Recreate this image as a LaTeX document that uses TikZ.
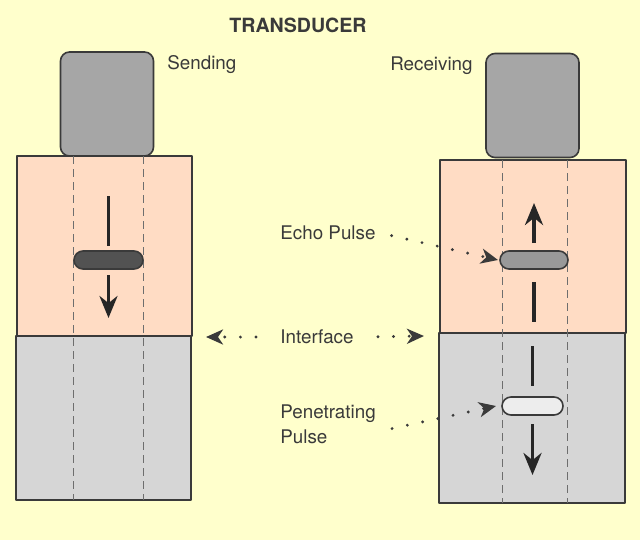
\documentclass[tikz,border=0pt]{standalone}
\usepackage{fontspec}
\setmainfont{TeX Gyre Heros}
\usepackage{tikz}
\usetikzlibrary{arrows.meta,positioning}
\definecolor{paper}{HTML}{FFFFCC}
\definecolor{skin}{HTML}{FFDCC4}
\definecolor{tissue}{HTML}{D6D6D6}
\definecolor{probe}{HTML}{A6A6A6}
\definecolor{ink}{HTML}{3A3A3A}
\definecolor{guide}{HTML}{6E6E6E}
\tikzset{
    every picture/.style={line join=round},
    probebox/.style={draw=ink,fill=probe,line width=0.8pt,rounded corners=4.5pt,
      minimum width=46.5pt,minimum height=52pt,inner sep=0pt,outer sep=0pt},
    skinpart/.style={draw=ink,fill=skin,line width=0.8pt,inner sep=0pt,outer sep=0pt},
    tissuepart/.style={draw=ink,fill=tissue,line width=0.8pt,inner sep=0pt,outer sep=0pt},
    pulsebar/.style={draw=ink,line width=0.8pt,rounded corners=4.5pt,
      minimum height=9pt,inner sep=0pt,outer sep=0pt},
    beam/.style={draw=black!85,line width=1.8pt},
    beamarrow/.style={beam,-{Stealth[length=11pt,width=9pt]}},
    guideline/.style={draw=guide,line width=0.5pt,dash pattern=on 4pt off 2.5pt},
    dotarrow/.style={draw=ink,line width=1.6pt,line cap=round,
      dash pattern=on 0pt off 7.8pt,-{Stealth[length=8.5pt,width=7.5pt,inset=2.5pt]}},
    lbl/.style={text=ink,font=\fontsize{9.4}{12.5}\selectfont,inner sep=2pt,align=left}
}
\begin{document}
\begin{tikzpicture}[x=0.5pt,y=-0.5pt]
  \fill[paper] (0,0) rectangle (640,540);
  \useasboundingbox (0,0) rectangle (640,540);
  \node[text=ink,font=\bfseries\fontsize{9.8}{12}\selectfont] (title) at (298,25) {TRANSDUCER};
  % sending side
  \node[skinpart,minimum width=87.5pt,minimum height=90pt] (skinS) at (104.5,246) {};
  \node[tissuepart,minimum width=87.5pt,minimum height=82pt] (tissueS) at (103.5,418) {};
  \node[probebox] (probeS) at (107,104) {};
  \node[lbl,anchor=west] (sendlbl) at (163,65) {Sending};
  \draw[guideline] (73,156) -- (73,500);
  \draw[guideline] (143,156) -- (143,500);
  \node[pulsebar,fill=black!68,minimum width=34.5pt] (sendpulse) at (108.5,260) {};
  \draw[beam] ([yshift=27.5pt]sendpulse.north) -- ([yshift=2.5pt]sendpulse.north);
  \draw[beamarrow] ([yshift=-3pt]sendpulse.south) -- ([yshift=-24.5pt]sendpulse.south);
  % receiving side
  \node[skinpart,minimum width=93pt,minimum height=86.5pt] (skinR) at (533,246.5) {};
  \node[tissuepart,minimum width=93pt,minimum height=85pt] (tissueR) at (532,418) {};
  \node[probebox] (probeR) at (532.5,105.5) {};
  \node[lbl,anchor=east] (recvlbl) at (477,66) {Receiving};
  \draw[guideline] (502,160) -- (502,503);
  \draw[guideline] (567,160) -- (567,503);
  \node[pulsebar,fill=black!40,minimum width=34pt] (echo) at (534,260) {};
  \node[pulsebar,fill=black!7,minimum width=30.5pt] (pene) at (532.5,406) {};
  \draw[beamarrow] ([yshift=4pt]echo.north) -- ([yshift=24pt]echo.north);
  \draw[beam] ([yshift=-6.5pt]echo.south) -- ([yshift=-26.5pt]echo.south);
  \draw[beam] ([yshift=25.5pt]pene.north) -- ([yshift=5.5pt]pene.north);
  \draw[beamarrow] ([yshift=-4.5pt]pene.south) -- ([yshift=-30pt]pene.south);
  % labels between
  \node[lbl,anchor=west] (echolbl) at (276,233) {Echo Pulse};
  \node[lbl,anchor=west] (iface) at (276,337) {Interface};
  \node[lbl,anchor=west] (penelbl) at (276,424.5) {Penetrating\\Pulse};
  \coordinate (ifL) at (206,337);
  \coordinate (ifR) at (424,336);
  \draw[dotarrow,shorten <=6pt] (echolbl.east) -- ([xshift=-1pt]echo.west);
  \draw[dotarrow,shorten <=10pt] (iface.west) -- (ifL);
  \draw[dotarrow,shorten <=10pt] (iface.east) -- (ifR);
  \draw[dotarrow] ([shift={(6pt,-2pt)}]penelbl.east) -- ([xshift=-3pt]pene.west);
\end{tikzpicture}
\end{document}
